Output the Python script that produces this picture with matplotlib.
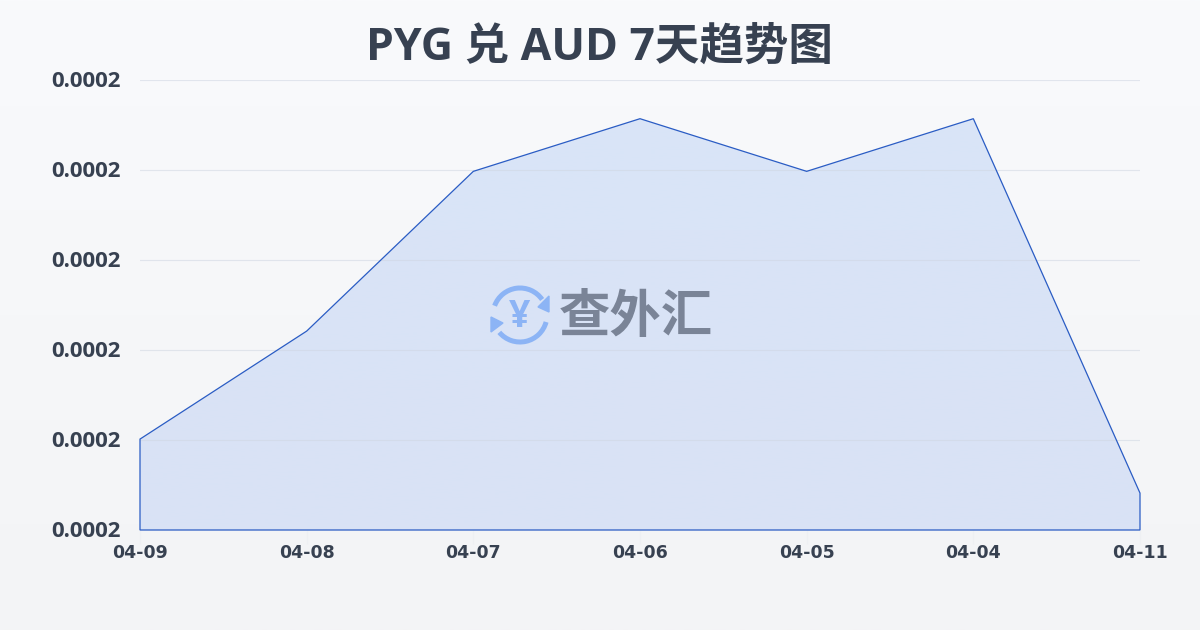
#!/usr/bin/env python3
"""PYG / AUD seven day trend, area chart with watermark."""
import numpy as np
import matplotlib
matplotlib.use('Agg')
import matplotlib.pyplot as plt
from matplotlib.patches import Arc, Polygon
from matplotlib.transforms import ScaledTranslation

plt.rcParams['font.family'] = ['Open Sans', 'Noto Sans CJK SC', 'DejaVu Sans']

TITLE = 'PYG 兑 AUD 7天趋势图'
dates = ['04-09', '04-08', '04-07', '04-06', '04-05', '04-04', '04-11']
rates = [0.00019010, 0.00020210, 0.00021985, 0.00022570, 0.00021985, 0.00022570, 0.00018410]
y_ticks = [0.00018, 0.00019, 0.00020, 0.00021, 0.00022, 0.00023]

TEXT = '#374151'
LINE = '#2a5cc4'

fig = plt.figure(figsize=(12, 6.3), dpi=100)

# page background, vertical gradient
bg = fig.add_axes([0, 0, 1, 1], zorder=0)
bg.axis('off')
bg.imshow(np.linspace(0, 1, 256).reshape(-1, 1), aspect='auto',
	cmap=matplotlib.colors.LinearSegmentedColormap.from_list('bg', ['#f9fafc', '#f3f4f6']))

ax = fig.add_axes([140 / 1200, 100 / 630, 1000 / 1200, 450 / 630], zorder=1)
ax.patch.set_alpha(0)
x = np.arange(len(dates))
ax.set_xlim(0, len(dates) - 1)
ax.set_ylim(y_ticks[0], y_ticks[-1])

# area fill, gradient clipped to the outline
verts = list(zip(x, rates)) + [(x[-1], y_ticks[0]), (x[0], y_ticks[0])]
outline = Polygon(verts, closed=True, facecolor='none', edgecolor=LINE, linewidth=0.9, zorder=3, clip_on=False)
grad = ax.imshow(np.linspace(0, 1, 256).reshape(-1, 1), aspect='auto', zorder=1,
	extent=(x[0], x[-1], y_ticks[0], y_ticks[-1]),
	cmap=matplotlib.colors.LinearSegmentedColormap.from_list('area', ['#d9e5f8', '#d9e2f5']))
ax.add_patch(outline)
grad.set_clip_path(Polygon(verts, closed=True, transform=ax.transData))

ax.set_yticks(y_ticks)
ax.set_yticklabels(['%.4f' % v for v in y_ticks], fontsize=16, fontweight='bold', color=TEXT)
ax.set_xticks(x)
ax.set_xticklabels(dates, family=['DejaVu Sans'], fontsize=12.5, fontweight='bold', color=TEXT)
ax.tick_params(axis='y', length=0, pad=14)
ax.tick_params(axis='x', length=10, width=0.8, color='#eef0f3', pad=0)
ax.grid(axis='y', color='#cfd6e2', alpha=0.55, linewidth=0.8, zorder=2)
ax.set_axisbelow(False)
for spine in ax.spines.values():
	spine.set_visible(False)
up_1px = ScaledTranslation(0, 1 / 100, fig.dpi_scale_trans)
for label in ax.get_yticklabels():
	label.set_transform(label.get_transform() + up_1px)

fig.text(0.4995, 1 - 48 / 630, TITLE, ha='center', va='center', fontsize=32, fontweight='bold', color='#374151')

# watermark, drawn in pixel coordinates
wm = fig.add_axes([0, 0, 1, 1], zorder=2)
wm.axis('off')
wm.set_xlim(0, 1200)
wm.set_ylim(630, 0)
BLUE = '#8cb4f5'
wm.add_patch(Arc((520, 315), 54, 54, theta1=200, theta2=325, color=BLUE, linewidth=3.6))
wm.add_patch(Arc((520, 315), 54, 54, theta1=15, theta2=140, color=BLUE, linewidth=3.6))
wm.add_patch(Polygon([(549, 296), (549, 312), (538, 307)], closed=True, color=BLUE))
wm.add_patch(Polygon([(491, 317), (491, 332), (503, 323)], closed=True, color=BLUE))
wm.text(520, 317, '¥', ha='center', va='center', fontsize=27, fontweight='bold', color=BLUE)
wm.text(636, 319, '查外汇', ha='center', va='center', fontsize=37, fontweight='bold', color='#7a8497')

fig.savefig('out.png', dpi=100)
